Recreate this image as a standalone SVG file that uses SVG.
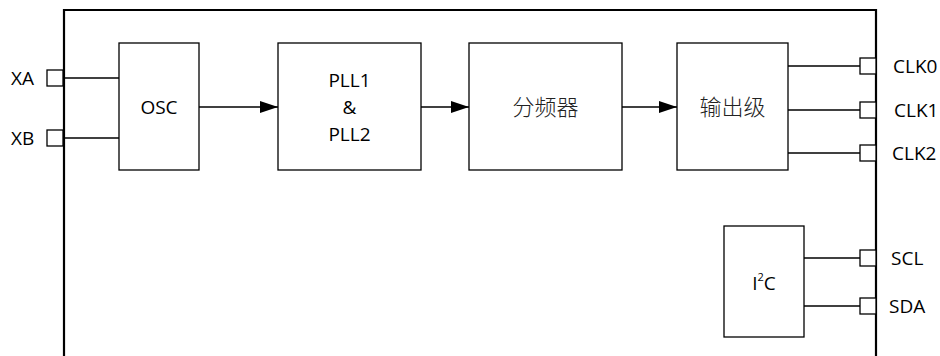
<svg xmlns="http://www.w3.org/2000/svg" width="940" height="356" viewBox="0 0 940 356">
<style>
.box{fill:#fff;stroke:#000;stroke-width:1.3}
.pin{fill:#fff;stroke:#000;stroke-width:1.3}
.w{stroke:#000;stroke-width:1.3;fill:none}
.t{font-family:"Open Sans","Noto Sans",sans-serif;font-size:19px;fill:#000}
.c{font-family:"Noto Sans CJK SC",sans-serif;font-size:22px;fill:#222;font-weight:300}
</style>
<defs>
<marker id="ah" markerWidth="18" markerHeight="12" refX="18" refY="6" orient="auto" markerUnits="userSpaceOnUse">
<path d="M0,0 L18,6 L0,12 Z" fill="#000"/>
</marker>
</defs>
<rect width="940" height="356" fill="#fff"/>
<path d="M64,360 V10 H876 V360" fill="none" stroke="#000" stroke-width="2.2"/>
<g id="connectors">
<line class="w" x1="63" y1="78" x2="119" y2="78"/>
<line class="w" x1="63" y1="138" x2="119" y2="138"/>
<line class="w" x1="199" y1="107" x2="278" y2="107" marker-end="url(#ah)"/>
<line class="w" x1="421" y1="107" x2="469" y2="107" marker-end="url(#ah)"/>
<line class="w" x1="622" y1="107" x2="677" y2="107" marker-end="url(#ah)"/>
<line class="w" x1="788" y1="66" x2="860" y2="66"/>
<line class="w" x1="788" y1="110" x2="860" y2="110"/>
<line class="w" x1="788" y1="153" x2="860" y2="153"/>
<line class="w" x1="804" y1="258" x2="860" y2="258"/>
<line class="w" x1="804" y1="306" x2="860" y2="306"/>
</g>
<g id="pins">
<rect class="pin" x="47" y="70" width="16" height="16"/>
<rect class="pin" x="47" y="130" width="16" height="16"/>
<rect class="pin" x="860" y="58" width="16" height="16"/>
<rect class="pin" x="860" y="102" width="16" height="16"/>
<rect class="pin" x="860" y="145" width="16" height="16"/>
<rect class="pin" x="860" y="250" width="16" height="16"/>
<rect class="pin" x="860" y="298" width="16" height="16"/>
<text class="t" x="11" y="85">XA</text>
<text class="t" x="11" y="145">XB</text>
<text class="t" x="893" y="73">CLK0</text>
<text class="t" x="894" y="117">CLK1</text>
<text class="t" x="892" y="160">CLK2</text>
<text class="t" x="891" y="265">SCL</text>
<text class="t" x="889" y="313">SDA</text>
</g>
<g id="osc">
<rect class="box" x="119" y="43" width="80" height="127"/>
<text class="t" x="159" y="114" text-anchor="middle">OSC</text>
</g>
<g id="pll">
<rect class="box" x="278" y="43" width="143" height="127"/>
<text class="t" x="349.5" y="87" text-anchor="middle">PLL1</text>
<text class="t" x="349.5" y="114" text-anchor="middle">&amp;</text>
<text class="t" x="349.5" y="141" text-anchor="middle">PLL2</text>
</g>
<g id="divider">
<rect class="box" x="469" y="43" width="153" height="127"/>
<text class="c" x="545.5" y="115" text-anchor="middle">分频器</text>
</g>
<g id="output">
<rect class="box" x="677" y="43" width="111" height="127"/>
<text class="c" x="732.5" y="115" text-anchor="middle">输出级</text>
</g>
<g id="i2c">
<rect class="box" x="724" y="226" width="80" height="111"/>
<text class="t" x="764" y="290" text-anchor="middle">I<tspan font-size="11" dy="-9">2</tspan><tspan dy="9">C</tspan></text>
</g>
</svg>
